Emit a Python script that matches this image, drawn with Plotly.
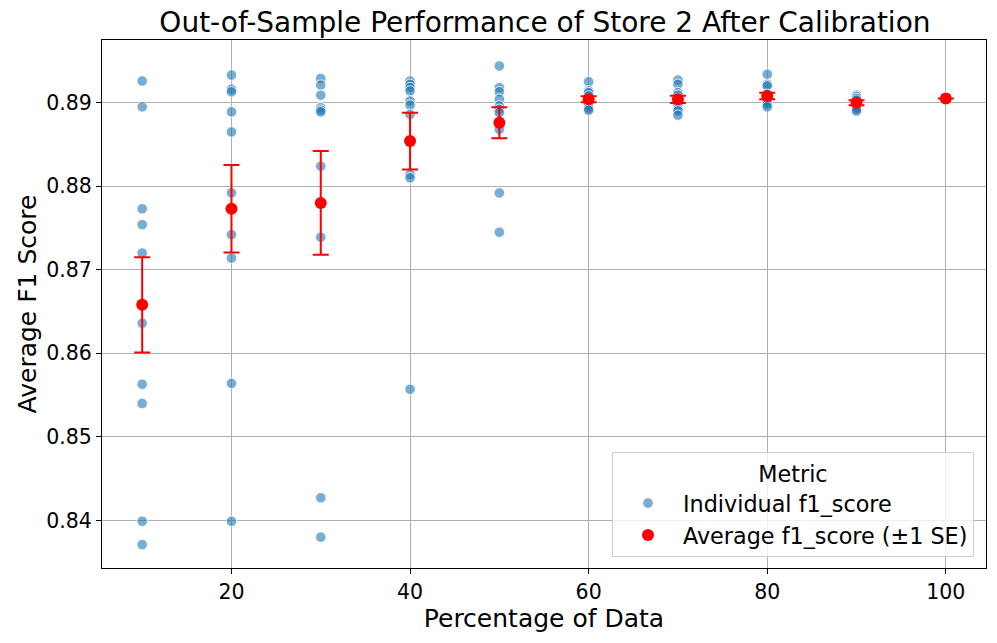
import plotly.graph_objects as go

# ---- data ----
pct = [10, 20, 30, 40, 50, 60, 70, 80, 90, 100]

scores_10 = [0.8926, 0.8895, 0.8773, 0.8754, 0.8720, 0.8636, 0.8563, 0.8540, 0.8399, 0.8371]
scores_20 = [0.8933, 0.8916, 0.8913, 0.8889, 0.8865, 0.8792, 0.8742, 0.8714, 0.8564, 0.8399]
scores_30 = [0.8929, 0.8921, 0.8909, 0.8894, 0.8891, 0.8889, 0.8824, 0.8739, 0.8427, 0.8380]
scores_40 = [0.8926, 0.8922, 0.8918, 0.8914, 0.8902, 0.8897, 0.8886, 0.8814, 0.8810, 0.8557]
scores_50 = [0.8944, 0.8918, 0.8913, 0.8904, 0.8896, 0.8892, 0.8888, 0.8868, 0.8792, 0.8745]
scores_60 = [0.8925, 0.8914, 0.8912, 0.8908, 0.8904, 0.8901, 0.8898, 0.8896, 0.8893, 0.8891]
scores_70 = [0.8927, 0.8922, 0.8912, 0.8909, 0.8905, 0.8901, 0.8897, 0.8892, 0.8890, 0.8885]
scores_80 = [0.8934, 0.8922, 0.8920, 0.8910, 0.8907, 0.8904, 0.8902, 0.8900, 0.8898, 0.8895]
scores_90 = [0.8909, 0.8907, 0.8905, 0.8903, 0.8900, 0.8898, 0.8896, 0.8894, 0.8892, 0.8890]
scores_100 = [0.8905, 0.8905, 0.8905, 0.8905, 0.8905, 0.8905, 0.8905, 0.8905, 0.8905, 0.8905]

mean_f1 = [0.8658, 0.8773, 0.8780, 0.8854, 0.8876, 0.8904, 0.8904, 0.8908, 0.8900, 0.8905]
se_f1 = [0.0057, 0.00525, 0.0062, 0.0034, 0.00185, 0.00036, 0.00044, 0.0004, 0.0003, 0.0]

x_ticks = [20, 40, 60, 80, 100]
y_ticks = [0.84, 0.85, 0.86, 0.87, 0.88, 0.89]

all_scores = [scores_10, scores_20, scores_30, scores_40, scores_50,
              scores_60, scores_70, scores_80, scores_90, scores_100]
ind_x = [p for p, s in zip(pct, all_scores) for _ in s]
ind_y = [v for s in all_scores for v in s]

FONT = "DejaVu Sans"

fig = go.Figure()
fig.add_trace(go.Scatter(
    x=ind_x, y=ind_y, mode="markers", name="Individual f1_score",
    marker=dict(size=10.5, color="rgba(31,119,180,0.6)",
                line=dict(color="white", width=0.8)),
))
fig.add_trace(go.Scatter(
    x=pct, y=mean_f1, mode="markers", name="Average f1_score (±1 SE)",
    marker=dict(size=12, color="red"),
    error_y=dict(type="data", array=se_f1, visible=True, color="red",
                 thickness=2, width=8),
))

axis_common = dict(
    showline=True, linecolor="black", linewidth=1.2, mirror=True,
    ticks="outside", ticklen=5, tickwidth=1.2, tickcolor="black",
    showgrid=True, gridcolor="#b0b0b0", gridwidth=1, zeroline=False,
    automargin=False,
    tickfont=dict(family=FONT, size=20.5, color="black"),
)

fig.update_layout(
    width=997, height=643,
    margin=dict(l=102, r=11, t=40, b=75),
    paper_bgcolor="white", plot_bgcolor="white",
    font=dict(family=FONT, color="black"),
    title=dict(text="Out-of-Sample Performance of Store 2 After Calibration",
               x=0.5466, xanchor="center", y=0.9658, yanchor="middle",
               font=dict(family=FONT, size=28, color="black")),
    xaxis=dict(range=[5.5, 104.5], tickvals=x_ticks,
               title=dict(text="Percentage of Data", standoff=5,
                          font=dict(family=FONT, size=25)),
               **axis_common),
    yaxis=dict(range=[0.8343, 0.8975], tickvals=y_ticks, tickformat=".2f",
               title=dict(text="Average F1 Score", standoff=2,
                          font=dict(family=FONT, size=25)),
               **axis_common),
    legend=dict(
        x=0.9864, y=0.0208, xanchor="right", yanchor="bottom",
        bgcolor="rgba(255,255,255,0.8)", bordercolor="#d0d0d0", borderwidth=1,
        font=dict(family=FONT, size=22.3, color="black"),
        title=dict(text="Metric", side="top center",
                   font=dict(family=FONT, size=22.3)),
        itemwidth=60,
    ),
    showlegend=True,
)

fig.write_html("out.html", config={"displayModeBar": False},
               post_script="document.body.style.margin='0px';")
